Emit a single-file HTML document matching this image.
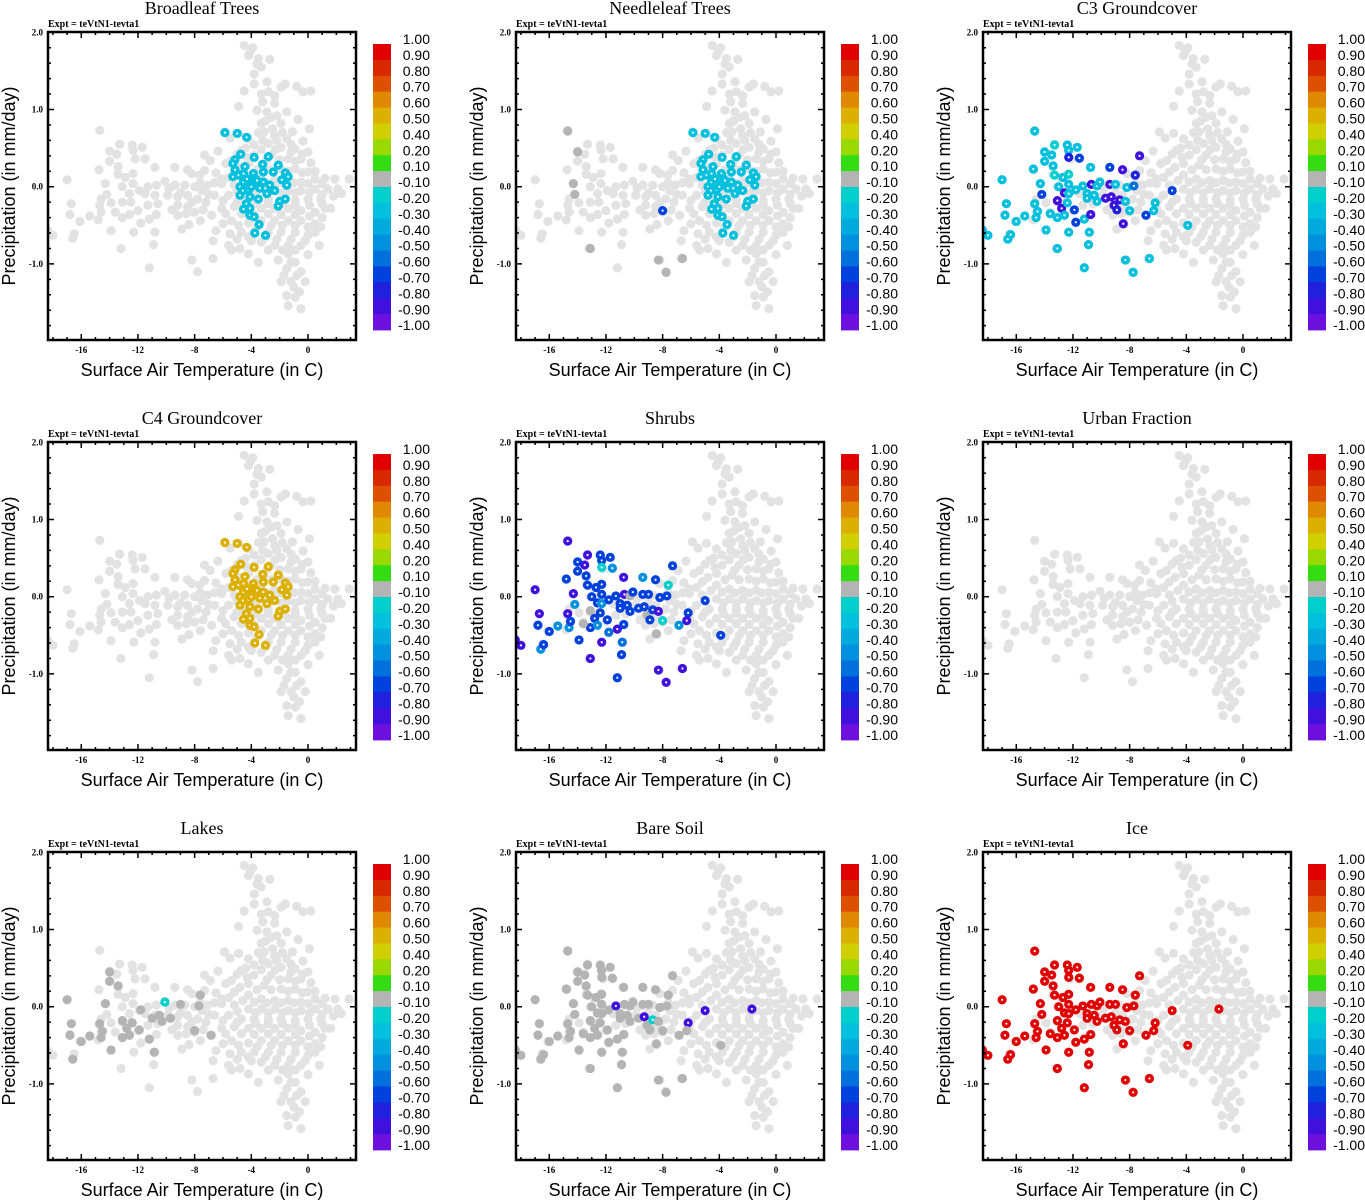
<!DOCTYPE html>
<html><head><meta charset="utf-8"><style>
html,body{margin:0;padding:0;background:#fff;}
svg{display:block;}
</style></head><body>
<svg id="fig" width="1365" height="1200" xmlns="http://www.w3.org/2000/svg"></svg>
<script>
// ---------- data ----------
const panelTitles = ["Broadleaf Trees","Needleleaf Trees","C3 Groundcover","C4 Groundcover","Shrubs","Urban Fraction","Lakes","Bare Soil","Ice"];
const xTickValues = [-16,-12,-8,-4,0];
const xTickLabels = ["-16","-12","-8","-4","0"];
const yTickValues = [2,1,0,-1];
const yTickLabels = ["2.0","1.0","0.0","-1.0"];
const cbLevels = ["1.00","0.90","0.80","0.70","0.60","0.50","0.40","0.20","0.10","-0.10","-0.20","-0.30","-0.40","-0.50","-0.60","-0.70","-0.80","-0.90","-1.00"];
const cbBounds = [1,0.9,0.8,0.7,0.6,0.5,0.4,0.2,0.1,-0.1,-0.2,-0.3,-0.4,-0.5,-0.6,-0.7,-0.8,-0.9,-1];
const cbColors = ["#e00000","#d82800","#dc5000","#e08800","#dcb000","#d0d000","#99d800","#33dd11","#b4b4b4","#00d0cc","#00c0dd","#00aadd","#0090dd","#0070dd","#0040dd","#2020dd","#4010dd","#6e10dd"];

// background (all grid cells) [T, P]
const bgPoints = [[-4.5,1.83],[-3.9,1.80],[-4.2,1.70],[-3.5,1.66],[-4.1,1.74],[-3.6,1.59],[-3.3,1.55],[-2.7,1.65],[-3.8,1.46],[-2.9,1.36],[-3.8,1.33],[-1.6,1.33],[-0.8,1.30],[0.2,1.24],[-0.35,1.23],[-4.5,1.24],[-3.3,1.20],[-2.8,1.23],[-2.35,1.18],[-1.9,1.29],[-3.2,1.10],[-2.35,1.08],[-3.6,0.99],[-2.9,0.97],[-1.5,0.97],[-2.2,0.92],[-4.9,1.04],[-0.7,0.87],[-3.3,0.82],[-1.9,0.82],[0.1,0.75],[-1.1,0.71],[-0.35,0.59],[-5.9,0.71],[-4.9,0.69],[-5.5,0.63],[-4.2,0.62],[-3.1,0.71],[-2.35,0.66],[-1.5,0.62],[-3.8,0.54],[-2.8,0.56],[-1.9,0.51],[-0.9,0.49],[0.0,0.45],[-4.7,0.47],[-3.8,0.41],[-2.6,0.41],[-1.4,0.36],[-0.5,0.36],[0.2,0.31],[-7.3,0.41],[-6.35,0.46],[-6.9,0.34],[-5.4,0.34],[-4.2,0.30],[-3.1,0.28],[-1.9,0.23],[-0.9,0.23],[0,0.19],[-8.2,0.17],[-7.65,0.15],[-7.3,0.21],[-6.1,0.10],[-5.2,0.19],[-4.2,0.15],[-3.3,0.10],[-2.35,0.08],[-1.4,0.08],[-0.5,0.06],[0.5,0.10],[1.2,0.11],[1.9,0.10],[2.9,0.10],[-7.1,0.02],[-6.1,0.04],[-5.2,0.02],[-4.2,-0.03],[-3.3,-0.03],[-2.35,-0.03],[-1.4,-0.05],[-0.5,-0.05],[0.5,-0.03],[1.4,-0.03],[2.1,-0.03],[2.35,-0.09],[-6.6,-0.11],[-5.6,-0.11],[-4.7,-0.16],[-3.8,-0.16],[-2.8,-0.16],[-1.9,-0.16],[-0.9,-0.18],[0,-0.16],[0.9,-0.16],[1.6,-0.28],[1.2,-0.28],[-6.1,-0.28],[-5.2,-0.26],[-4.2,-0.28],[-3.3,-0.28],[-2.35,-0.28],[-1.4,-0.28],[-0.5,-0.31],[0.5,-0.33],[-6.8,-0.37],[-5.4,-0.44],[-4.2,-0.47],[-3.3,-0.44],[-2.35,-0.44],[-1.4,-0.44],[-0.5,-0.44],[0.5,-0.48],[0.9,-0.52],[-6.5,-0.57],[-5.5,-0.61],[-4.7,-0.59],[-3.8,-0.59],[-2.8,-0.59],[-1.9,-0.59],[-0.9,-0.59],[0,-0.63],[0.5,-0.59],[-6.7,-0.7],[-5.6,-0.76],[-4.8,-0.8],[-4.0,-0.7],[-3.3,-0.72],[-2.35,-0.76],[-1.4,-0.76],[-0.5,-0.76],[0.8,-0.76],[-5.4,-0.82],[-4.2,-0.87],[-3.5,-0.98],[-2.1,-0.95],[-1.4,-0.87],[0,-0.88],[-0.9,-0.98],[-0.5,-1.1],[-1.5,-1.06],[-1.9,-1.23],[-1.2,-1.23],[-0.2,-1.23],[-1.5,-1.41],[-0.9,-1.43],[-0.6,-1.36],[-1.4,-1.54],[-0.5,-1.58],[-8.2,-0.95],[-6.7,-0.93],[-7.8,-1.1],
[-17.0,0.09],[-16.7,-0.22],[-16.8,-0.36],[-16.1,-0.45],[-15.4,-0.38],[-16.5,-0.61],[-16.6,-0.67],[-18.0,-0.63],[-18.35,-0.57],[-14.7,0.73],[-13.3,0.55],[-14.0,0.46],[-13.5,0.42],[-14.0,0.33],[-12.4,0.54],[-12.35,0.47],[-12.2,0.36],[-11.7,0.51],[-11.5,0.36],[-14.75,0.22],[-13.4,0.26],[-13.4,0.16],[-12.9,0.12],[-12.35,0.17],[-10.8,0.25],[-9.4,0.25],[-8.5,0.22],[-14.3,0.04],[-13.1,0],[-12.35,0.04],[-12.6,-0.09],[-11.9,-0.05],[-11.3,0.0],[-10.7,0.02],[-10.1,0.07],[-9.4,0.02],[-8.7,0.02],[-8.0,0],[-7.5,-0.05],[-14.2,-0.1],[-14.6,-0.16],[-14.7,-0.24],[-13.9,-0.21],[-13.1,-0.2],[-12.5,-0.2],[-11.5,-0.09],[-10.8,-0.11],[-9.9,-0.11],[-9.2,-0.13],[-8.5,-0.11],[-7.8,-0.16],[-14.6,-0.33],[-14.8,-0.43],[-13.6,-0.33],[-13.1,-0.4],[-12.6,-0.36],[-12.0,-0.31],[-11.3,-0.24],[-10.6,-0.22],[-9.2,-0.24],[-8.5,-0.26],[-8.0,-0.33],[-11.8,-0.47],[-11.2,-0.42],[-10.7,-0.36],[-9.2,-0.37],[-8.6,-0.35],[-8.0,-0.33],[-13.9,-0.57],[-12.3,-0.59],[-10.8,-0.59],[-8.9,-0.55],[-8.4,-0.49],[-13.2,-0.8],[-10.9,-0.75],[-11.2,-1.05],
[-2.6,0.9],[-3.0,0.85],[-2.5,0.75],[-1.8,0.7],[-3.5,0.7],[-2.2,0.6],[-3.2,0.6],[-1.2,0.55],[-4.4,0.5],[-3.3,0.48],[-2.3,0.48],[-1.2,0.45],[-0.4,0.42],[-5.0,0.42],[-4.3,0.38],[-2.9,0.35],[-2.0,0.35],[-0.9,0.33],[-5.8,0.3],[-4.8,0.25],[-3.6,0.22],[-2.6,0.22],[-1.4,0.2],[-0.4,0.18],[0.5,0.2],[-6.5,0.18],[-5.6,0.12],[-4.6,0.08],[-3.8,0.06],[-2.9,0.05],[-1.9,0.05],[-1.0,0.05],[0.0,0.04],[1.0,0.04],[-7.6,0.05],[-6.6,0.05],[-5.0,-0.06],[-3.7,-0.08],[-2.8,-0.08],[-1.8,-0.08],[-0.9,-0.08],[0.1,-0.08],[1.0,-0.1],[1.8,-0.12],[-7.2,-0.2],[-6.0,-0.18],[-5.0,-0.2],[-3.7,-0.22],[-2.8,-0.22],[-1.8,-0.22],[-0.9,-0.24],[0.1,-0.24],[1.0,-0.22],[-7.4,-0.3],[-5.8,-0.35],[-4.7,-0.35],[-3.8,-0.36],[-2.8,-0.35],[-1.9,-0.36],[-0.9,-0.36],[0.1,-0.38],[1.0,-0.4],[-6.0,-0.48],[-4.9,-0.5],[-3.6,-0.52],[-2.6,-0.5],[-1.8,-0.5],[-0.9,-0.5],[0.0,-0.52],[-5.0,-0.68],[-4.2,-0.65],[-3.0,-0.65],[-2.2,-0.68],[-1.2,-0.68],[-0.2,-0.7],[-2.8,-0.82],[-1.8,-0.82],[-0.9,-0.82],[-1.2,-0.98],[-0.8,-1.15],[-1.7,-1.15],[-1.0,-1.3],[-9.8,-0.02],[-9.0,-0.08],[-8.2,-0.2],[-7.0,-0.1],[-9.6,-0.3],[-7.6,-0.44]];

// warm cluster cells [T, P]
const warmPoints = [[-5.86,0.70],[-5.0,0.69],[-4.33,0.64],[-4.75,0.42],[-3.8,0.38],[-2.8,0.39],[-3.2,0.29],[-5.15,0.35],[-5.3,0.30],[-5.15,0.22],[-4.9,0.15],[-4.55,0.17],[-3.85,0.17],[-3.15,0.19],[-2.1,0.28],[-2.45,0.19],[-1.6,0.18],[-1.4,0.13],[-1.85,0.09],[-1.5,0.02],[-4.55,0.06],[-3.85,0.04],[-3.15,0.06],[-2.7,0.02],[-4.2,-0.04],[-3.4,-0.02],[-2.35,-0.05],[-4.1,-0.13],[-3.5,-0.16],[-4.35,-0.22],[-4.55,-0.29],[-4.1,-0.28],[-1.6,-0.16],[-2.0,-0.19],[-2.1,-0.25],[-4.1,-0.37],[-3.8,-0.39],[-3.45,-0.49],[-3.75,-0.6],[-3.0,-0.63],[-4.8,0.0],[-5.3,0.13],[-4.45,0.26],[-3.75,0.11],[-2.9,-0.09],[-4.8,-0.11],[-4.3,0.1],[-4.0,0.0],[-3.6,0.08],[-4.6,-0.05]];
const broadleafValues = [-0.25,-0.25,-0.25,-0.25,-0.25,-0.25,-0.25,-0.25,-0.25,-0.25,-0.25,-0.25,-0.25,-0.25,-0.25,-0.25,-0.25,-0.25,-0.25,-0.25,-0.25,-0.25,-0.25,-0.25,-0.25,-0.25,-0.25,-0.25,-0.25,-0.25,-0.25,-0.25,-0.25,-0.25,-0.25,-0.25,-0.25,-0.25,-0.25,-0.25,-0.25,-0.25,-0.25,-0.25,-0.25,-0.25,-0.25,-0.25,-0.25,-0.25];
const needleWarmValues = [-0.25,-0.25,-0.25,-0.25,-0.25,-0.25,-0.25,-0.25,-0.25,-0.25,-0.25,-0.25,-0.25,-0.25,-0.25,-0.25,-0.25,-0.25,-0.25,-0.25,-0.25,-0.25,-0.25,-0.25,-0.25,-0.25,-0.25,-0.25,-0.25,-0.25,-0.25,-0.25,-0.25,-0.25,-0.25,-0.25,-0.25,-0.25,-0.25,-0.25,-0.25,-0.25,-0.25,-0.25,-0.25,-0.25,-0.25,-0.25,-0.25,-0.25];
const c4Values = [0.55,0.55,0.55,0.55,0.55,0.55,0.55,0.55,0.55,0.55,0.55,0.55,0.55,0.55,0.55,0.55,0.55,0.55,0.55,0.55,0.55,0.55,0.55,0.55,0.55,0.55,0.55,0.55,0.55,0.55,0.55,0.55,0.55,0.55,0.55,0.55,0.55,0.55,0.55,0.55,0.55,0.55,0.55,0.55,0.55,0.55,0.55,0.55,0.55,0.55];

// cold cells [T, P]
const coldPoints = [[-14.7,0.72],[-18.4,-0.56],[-18.0,-0.63],[-17.0,0.09],[-16.7,-0.22],[-16.8,-0.37],[-16.6,-0.68],[-16.4,-0.62],[-16.0,-0.45],[-15.4,-0.38],
[-14.8,0.23],[-14.7,-0.22],[-14.6,-0.40],[-14.0,0.45],[-14.0,0.33],[-14.3,0.04],[-14.2,-0.10],[-14.5,-0.32],[-13.9,-0.56],[-13.5,0.41],
[-13.3,0.54],[-13.4,0.27],[-13.3,0.15],[-13.0,0.00],[-13.1,-0.18],[-13.1,-0.40],[-13.1,-0.80],[-13.6,-0.35],[-12.7,0.12],[-12.8,-0.28],
[-12.6,-0.08],[-12.6,-0.37],[-12.4,0.54],[-12.3,0.47],[-12.3,0.38],[-12.3,0.16],[-12.3,0.03],[-12.3,-0.09],[-12.4,-0.21],[-12.3,-0.59],
[-11.7,0.51],[-11.55,0.37],[-11.9,-0.30],[-11.8,-0.46],[-11.8,-0.04],[-11.3,0.01],[-11.2,-0.42],[-11.2,-1.05],[-11.0,-0.09],[-11.0,-0.15],
[-10.9,-0.75],[-10.85,-0.59],[-10.75,-0.36],[-10.75,0.25],[-10.7,0.03],[-10.5,-0.11],[-10.3,-0.19],[-10.3,0.01],[-10.1,0.06],[-9.7,-0.15],
[-9.4,0.25],[-9.4,0.03],[-9.3,-0.13],[-9.1,-0.24],[-9.0,0.03],[-8.9,-0.30],[-8.5,0.22],[-8.7,-0.17],[-8.45,-0.48],[-8.3,-0.19],
[-8.3,-0.95],[-8.2,-0.01],[-8.0,-0.31],[-7.7,0.01],[-7.75,-1.11],[-7.6,0.15],[-7.3,0.40],[-6.85,-0.37],[-6.6,-0.93],[-6.2,-0.21],
[-6.3,-0.31],[-5.0,-0.05],[-3.9,-0.50],[-1.7,-0.03]];
const N = null;
const needleColdValues = [0,N,N,N,N,N,N,N,N,N, N,N,N,0,N,0,0,N,N,N, N,N,N,N,N,N,0,N,N,N, N,N,N,N,N,N,N,N,N,N, N,N,N,N,N,N,N,N,N,N, N,N,N,N,N,N,N,N,N,N, N,N,N,N,N,N,N,N,N,N, 0,N,-0.65,N,0,N,N,N,0,N, N,N,N,N];
const c3Values = [-0.25,-0.25,-0.25,-0.25,-0.25,-0.25,-0.25,-0.25,-0.25,-0.25,
-0.25,-0.25,-0.25,-0.25,-0.25,-0.25,-0.65,-0.25,-0.25,-0.25,
-0.15,-0.25,-0.15,-0.25,-0.85,-0.25,-0.25,-0.25,-0.25,-0.85,
-0.85,-0.25,-0.25,-0.25,-0.75,-0.15,-0.25,-0.25,-0.25,-0.25,
-0.25,-0.65,-0.65,-0.65,-0.25,-0.25,-0.25,-0.25,-0.25,-0.25,
-0.25,-0.25,-0.85,-0.25,-0.85,-0.25,-0.25,-0.25,-0.25,-0.85,
-0.65,-0.85,-0.85,-0.85,-0.25,-0.75,-0.85,-0.85,-0.85,-0.25,
-0.25,-0.25,-0.25,-0.55,-0.25,-0.75,-0.85,-0.65,-0.25,-0.25,
-0.25,-0.65,-0.25,N];
const shrubValues = [-0.85,-0.85,-0.85,-0.85,-0.85,-0.65,-0.45,-0.65,-0.65,-0.45,
-0.65,-0.85,-0.45,-0.65,-0.65,-0.85,-0.45,-0.65,-0.65,-0.85,
-0.85,-0.65,-0.65,-0.65,0,-0.65,-0.85,0,-0.65,-0.65,
-0.65,-0.45,-0.65,-0.65,-0.15,-0.65,-0.65,-0.45,-0.65,-0.85,
-0.65,-0.45,-0.65,-0.55,-0.65,-0.65,-0.85,-0.65,-0.65,-0.65,
-0.65,-0.55,-0.65,-0.85,-0.85,-0.65,-0.65,0,-0.65,-0.65,
-0.45,-0.65,-0.65,0,-0.65,-0.65,-0.65,-0.65,0,-0.85,
-0.85,-0.65,-0.15,-0.65,-0.85,-0.15,-0.65,-0.45,-0.85,-0.65,
-0.85,-0.65,-0.65,N];
const lakeValues = [N,N,N,0,0,0,0,N,0,0, N,0,0,0,0,0,N,0,0,N, N,0,N,N,0,0,N,N,N,0, N,0,N,N,N,N,N,N,0,N, N,N,0,N,0,N,0,N,N,0, N,0,N,N,N,0,0,N,-0.15,0, N,N,N,N,0,N,N,N,N,N, N,N,0,0,N,0,N,0,N,N, N,N,N,N];
const bareValues = [0,0,0,0,0,0,0,0,0,0, 0,0,0,0,0,0,0,0,0,0, 0,0,0,0,0,0,0,0,0,0, 0,0,0,0,0,0,0,0,0,0, 0,0,0,0,0,-0.85,0,0,0,0, 0,0,0,0,0,0,0,0,0,0, 0,0,-0.85,0,0,0,0,-0.15,0,0, 0,0,0,0,0,0,0,0,0,-0.85, 0,-0.85,0,-0.85];
const iceValues = [0.95,0.95,0.95,0.95,0.95,0.95,0.95,0.95,0.95,0.95, 0.95,0.95,0.95,0.95,0.95,0.95,0.95,0.95,0.95,0.95, 0.95,0.95,0.95,0.95,0.95,0.95,0.95,0.95,0.95,0.95, 0.95,0.95,0.95,0.95,0.95,0.95,0.95,0.95,0.95,0.95, 0.95,0.95,0.95,0.95,0.95,0.95,0.95,0.95,0.95,0.95, 0.95,0.95,0.95,0.95,0.95,0.95,0.95,0.95,0.95,0.95, 0.95,0.95,0.95,0.95,0.95,0.95,0.95,0.95,0.95,0.95, 0.95,0.95,0.95,0.95,0.95,0.95,0.95,0.95,0.95,0.95, 0.95,0.95,0.95,0.95];

// layers per panel: [points, values]
const panelLayers = [
  [[warmPoints, broadleafValues]],
  [[coldPoints, needleColdValues],[warmPoints, needleWarmValues]],
  [[coldPoints, c3Values]],
  [[warmPoints, c4Values]],
  [[coldPoints, shrubValues]],
  [],
  [[coldPoints, lakeValues]],
  [[coldPoints, bareValues]],
  [[coldPoints, iceValues]]
];

// ---------- drawing ----------
const NS = "http://www.w3.org/2000/svg";
const svg = document.getElementById("fig");
function mk(tag, attrs, parent){ const e=document.createElementNS(NS,tag); for(const k in attrs) e.setAttribute(k,attrs[k]); (parent||svg).appendChild(e); return e; }
const X0=48, X1=356, Y0=32, Y1=340;
function sx(t){ return 308 + 14.17*t; }
function sy(p){ return 186.7 - 77.2*p; }
function colorFor(v){
  for(let i=0;i<cbColors.length;i++){ if(v<=cbBounds[i] && v>=cbBounds[i+1]) return cbColors[i]; }
  return v>1?cbColors[0]:cbColors[cbColors.length-1];
}
const serif = '"Liberation Serif", serif';
const sans = '"Liberation Sans", sans-serif';

panelTitles.forEach((title, k) => {
  const col = k%3, row = Math.floor(k/3);
  const ox = [0,468,935][col], oy = [0,410,820][row];
  const g = mk("g",{transform:`translate(${ox},${oy})`});
  
  

  const t = mk("text",{x:202,y:14,"text-anchor":"middle","font-family":serif,"font-size":18,fill:"#000"},g);
  t.textContent = title;
  
  

  const ex = mk("text",{x:48,y:27,"font-family":serif,"font-size":10,"font-weight":"bold",fill:"#000"},g);
  ex.textContent = "Expt = teVtN1-tevta1";
  
  

  const cid = "clip"+k;
  const cp = mk("clipPath",{id:cid},g);
  mk("rect",{x:X0,y:Y0,width:X1-X0,height:Y1-Y0},cp);
  const pts = mk("g",{"clip-path":`url(#${cid})`},g);
  
  

  bgPoints.forEach(p => {
    const c = mk("circle",{cx:sx(p[0]),cy:sy(p[1]),r:4.6,fill:"#e2e2e2"},pts);
    
    
  });
  panelLayers[k].forEach(layer => {
    const P = layer[0], V = layer[1];
    P.forEach((p,i) => {
      const v = V[i];
      if(v===null || v===undefined) return;
      const c = mk("circle",{cx:sx(p[0]),cy:sy(p[1]),r:4.6,fill:colorFor(v)},pts);
      
      
      if(v!==0) mk("circle",{cx:sx(p[0]),cy:sy(p[1]),r:1.1,fill:"#fff"},pts);
    });
  });

  const fr = mk("rect",{x:X0,y:Y0,width:X1-X0,height:Y1-Y0,fill:"none",stroke:"#000","stroke-width":2.5},g);
  
  

  let d = "";
  for(let v=-18; v<=3; v++){
    const x=sx(v); if(x<X0+1||x>X1-1) continue;
    const L = (v%4===0)?6:3;
    d += `M${x},${Y1}v${-L}M${x},${Y0}v${L}`;
  }
  for(let i=-10;i<=10;i++){
    const v=i/5, y=sy(v); if(y<Y0+1||y>Y1-1) continue;
    const L = (i%5===0)?6:3;
    d += `M${X0},${y}h${L}M${X1},${y}h${-L}`;
  }
  mk("path",{d:d,stroke:"#000","stroke-width":1.5,fill:"none"},g);

  xTickValues.forEach((v,i)=>{
    const tx = mk("text",{x:sx(v),y:353,"text-anchor":"middle","font-family":serif,"font-size":9,"font-weight":"bold"},g);
    tx.textContent = xTickLabels[i];
    
    
  });
  yTickValues.forEach((v,i)=>{
    const ty = mk("text",{x:43,y:sy(v)+3,"text-anchor":"end","font-family":serif,"font-size":9,"font-weight":"bold"},g);
    ty.textContent = yTickLabels[i];
    
    
  });

  const xt = mk("text",{x:202,y:376,"text-anchor":"middle","font-family":sans,"font-size":18},g);
  xt.textContent = "Surface Air Temperature (in C)";
  
  
  const yt = mk("text",{x:0,y:0,"text-anchor":"middle","font-family":sans,"font-size":18,transform:"translate(15,186) rotate(-90)"},g);
  yt.textContent = "Precipitation (in mm/day)";
  
  

  const cb = mk("g",{},g);
  
  
  const bh = 286/cbColors.length;
  cbColors.forEach((c,i)=>{
    mk("rect",{x:373,y:44+i*bh,width:18,height:bh+0.4,fill:c},cb);
  });
  cbLevels.forEach((s,i)=>{
    const tl = mk("text",{x:430,y:39+i*15.9+5,"text-anchor":"end","font-family":sans,"font-size":14},cb);
    tl.textContent = s;
    
    
  });
});
</script>
</body></html>
